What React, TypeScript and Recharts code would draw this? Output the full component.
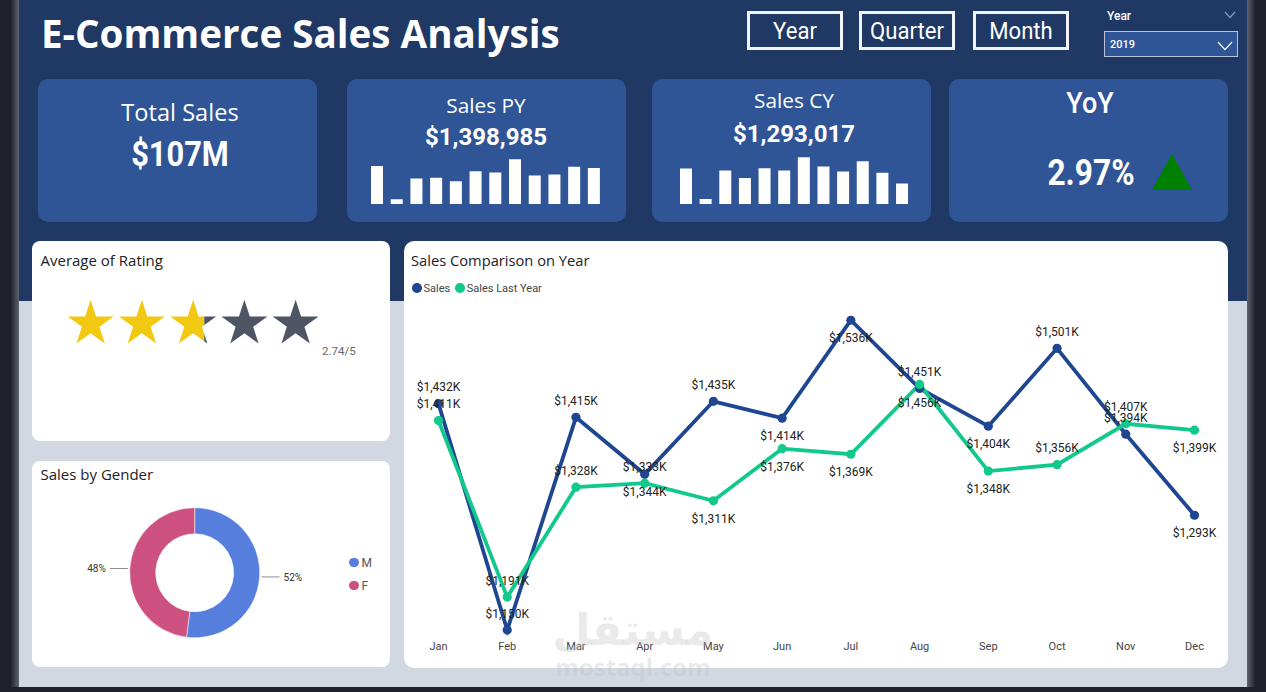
import React from 'react'
import {
  LineChart, Line, BarChart, Bar, PieChart, Pie, Cell, ScatterChart, Scatter,
  XAxis, YAxis, LabelList, Legend,
} from 'recharts'

const months = ['Jan', 'Feb', 'Mar', 'Apr', 'May', 'Jun', 'Jul', 'Aug', 'Sep', 'Oct', 'Nov', 'Dec']
const sales = [1432, 1150, 1415, 1344, 1435, 1414, 1536, 1451, 1404, 1501, 1394, 1293]
const salesLastYear = [1411, 1191, 1328, 1333, 1311, 1376, 1369, 1456, 1348, 1356, 1407, 1399]
const salesBelow = ['Apr', 'Jun', 'Jul', 'Sep', 'Dec']
const lastYearBelow = ['May', 'Jun', 'Jul', 'Aug', 'Sep', 'Dec']
const genders = ['M', 'F']
const genderShare = [52, 48]
const starSlots = [1, 2, 3, 4, 5]
const rating = 2.74

const NAVY = '#203864'
const CARD_BLUE = '#2F5597'
const BLUE = '#1F4690'
const GREEN = '#10C98A'
const GOLD = '#F2C811'
const SLATE = '#4E5564'
const GENDER_COLORS = ['#567EDD', '#CC5180']

const UI = '"Open Sans", sans-serif'
const DIN = 'Roboto, sans-serif'

const monthly = months.map((month, i) => ({ month, sales: sales[i], lastYear: salesLastYear[i] }))
const genderData = genders.map((name, i) => ({ name, value: genderShare[i] }))
const starData = starSlots.map(n => ({ n, y: 1 }))

const abs = (left: number, top: number, width: number, height: number): React.CSSProperties => ({
  position: 'absolute', left, top, width, height,
})

function Txt({ x, y, size, children, weight = 400, color = '#fff', font = DIN, align = 'center', sx = 1 }: any) {
  // x is the centre (or the left edge when align is left), y the vertical centre
  const style: React.CSSProperties = {
    position: 'absolute', top: y, fontSize: size, fontWeight: weight, color, fontFamily: font,
    whiteSpace: 'nowrap', lineHeight: 1,
    left: x,
    transform: align === 'center' ? `translate(-50%, -50%) scaleX(${sx})` : `translateY(-50%) scaleX(${sx})`,
    transformOrigin: align === 'center' ? 'center' : 'left center',
  }
  return <div style={style}>{children}</div>
}

function Card({ x, y, w, h, color = '#fff', radius = 10 }: any) {
  return <div style={{ ...abs(x, y, w, h), background: color, borderRadius: radius }} />
}

function MonthButton({ x, w, label }: any) {
  return (
    <>
      <div style={{ ...abs(x, 11, w, 39), boxSizing: 'border-box', border: '3px solid #F1F3F7' }} />
      <Txt x={x + w / 2} y={31} size={23} sx={0.96}>{label}</Txt>
    </>
  )
}

function Chevron({ x, y, w, color }: any) {
  const h = w * 0.55
  return (
    <svg style={{ ...abs(x, y, w, h + 2), overflow: 'visible' }}>
      <polyline points={`0,0 ${w / 2},${h} ${w},0`} fill="none" stroke={color} strokeWidth={1.2} />
    </svg>
  )
}

function Spark({ x, w, values, domain }: any) {
  const data = values.map((v: number, i: number) => ({ i, v }))
  return (
    <div style={abs(x, 154, w, 50)}>
      <BarChart width={w} height={50} data={data} margin={{ top: 0, right: 0, bottom: 0, left: 0 }}>
        <XAxis dataKey="i" hide />
        <YAxis hide domain={domain} allowDataOverflow />
        <Bar dataKey="v" fill="#fff" barSize={12} isAnimationActive={false} />
      </BarChart>
    </div>
  )
}

function StarShape({ cx, cy, payload }: any) {
  const R = 24.2
  const r = R * 0.382
  const pts = Array.from({ length: 10 }, (_, i) => {
    const a = (i * Math.PI) / 5
    const d = i % 2 === 0 ? R : r
    return `${cx + d * Math.sin(a)},${cy - d * Math.cos(a)}`
  }).join(' ')
  const share = Math.max(0, Math.min(1, rating - (payload.n - 1)))
  const half = R * 0.951
  const split = half * 2 * share
  const id = `star-${payload.n}`
  return (
    <g>
      <clipPath id={`${id}-on`}>
        <rect x={cx - half} y={cy - R} width={split} height={R * 2} />
      </clipPath>
      <clipPath id={`${id}-off`}>
        <rect x={cx - half + split} y={cy - R} width={half * 2 - split} height={R * 2} />
      </clipPath>
      <polygon points={pts} fill={SLATE} clipPath={`url(#${id}-off)`} />
      <polygon points={pts} fill={GOLD} clipPath={`url(#${id}-on)`} />
    </g>
  )
}

function GenderLabel({ cx, cy, midAngle, outerRadius, value }: any) {
  const rad = (midAngle * Math.PI) / 180
  const right = Math.cos(rad) >= 0
  const y = cy - (outerRadius + 2) * Math.sin(rad)
  const x0 = cx + (outerRadius + 2) * Math.cos(rad)
  const x1 = x0 + (right ? 18 : -18)
  return (
    <g>
      <line x1={x0} y1={y} x2={x1} y2={y} stroke="#8d8d96" strokeWidth={1} />
      <text x={x1 + (right ? 4 : -4)} y={y + 1} textAnchor={right ? 'start' : 'end'} dominantBaseline="middle"
        fontSize={10} fontFamily={DIN} fill="#333">{value}%</text>
    </g>
  )
}

function GenderLegend({ payload }: any) {
  return (
    <div>
      {(payload || []).map((p: any) => (
        <div key={p.value} style={{ display: 'flex', alignItems: 'center', height: 23, fontFamily: DIN, fontSize: 12, color: '#555' }}>
          <span style={{ width: 9.5, height: 9.5, borderRadius: '50%', background: p.color, marginRight: 3 }} />
          {p.value}
        </div>
      ))}
    </div>
  )
}

function SalesLegend({ payload }: any) {
  return (
    <div style={{ display: 'flex', alignItems: 'center', fontFamily: DIN, fontSize: 11, color: '#444', height: 14 }}>
      {(payload || []).filter((p: any) => p.type !== 'none').map((p: any) => (
        <span key={p.value} style={{ display: 'flex', alignItems: 'center', marginRight: 5 }}>
          <span style={{ width: 9.5, height: 9.5, borderRadius: '50%', background: p.color, marginRight: 2 }} />
          {p.value}
        </span>
      ))}
    </div>
  )
}

const pointLabel = (below: string[]) => ({ x, y, value, index }: any) => (
  <text x={x} y={y + (below.includes(months[index]) ? 19 : -15.5)} textAnchor="middle" dominantBaseline="middle"
    fontSize={12} fontFamily={DIN} fill="#222">
    ${Number(value).toLocaleString('en-US')}K
  </text>
)

export default function App() {
  return (
    <div style={{ ...abs(0, 0, 1266, 692), overflow: 'hidden', background: '#1E2129' }}>
      {/* page backdrop and window frame */}
      <div style={{ ...abs(19, 0, 1228, 301), background: NAVY }} />
      <div style={{ ...abs(19, 301, 1228, 386), background: '#D2D8E2' }} />
      <div style={{ ...abs(0, 0, 19, 692), background: 'linear-gradient(90deg,#1E2129 55%,#5F636D 100%)' }} />
      <div style={{ ...abs(1247, 0, 19, 692), background: 'linear-gradient(90deg,#5F636D 0%,#1E2129 45%)' }} />
      <div style={{ ...abs(0, 687, 1266, 5), background: '#1E2129' }} />

      <Txt x={41} y={33} size={38.6} weight={700} font={UI} align="left">E-Commerce Sales Analysis</Txt>

      <MonthButton x={747} w={96} label="Year" />
      <MonthButton x={859} w={96} label="Quarter" />
      <MonthButton x={973} w={96} label="Month" />

      <Txt x={1107} y={16} size={12} weight={500} align="left">Year</Txt>
      <Chevron x={1225} y={12} w={10} color="#8E9AB8" />
      <div style={{ ...abs(1104, 31, 134, 26), boxSizing: 'border-box', background: CARD_BLUE, border: '1px solid #B9C3D8' }} />
      <Txt x={1110} y={44} size={11} weight={500} align="left">2019</Txt>
      <Chevron x={1218} y={42} w={14} color="#fff" />

      {/* KPI cards */}
      <Card x={38} y={79} w={279} h={143} color={CARD_BLUE} />
      <Card x={347} y={79} w={279} h={143} color={CARD_BLUE} />
      <Card x={652} y={79} w={279} h={143} color={CARD_BLUE} />
      <Card x={949} y={79} w={279} h={143} color={CARD_BLUE} />

      <Txt x={180} y={113} size={23.6} font={UI}>Total Sales</Txt>
      <Txt x={180} y={154} size={35} weight={700} sx={0.88}>$107M</Txt>

      <Txt x={486} y={105} size={20.8} font={UI}>Sales PY</Txt>
      <Txt x={486} y={137} size={24} weight={700}>$1,398,985</Txt>
      <Spark x={367.4} w={236.6} values={salesLastYear} domain={[1160, 1491]} />

      <Txt x={794} y={100} size={20.8} font={UI}>Sales CY</Txt>
      <Txt x={794} y={134} size={24} weight={700}>$1,293,017</Txt>
      <Spark x={676.3} w={235.7} values={sales} domain={[1104, 1567]} />

      <Txt x={1090} y={103} size={30} weight={500} sx={0.9}>YoY</Txt>
      <Txt x={1091} y={173} size={36} weight={700} sx={0.88}>2.97%</Txt>
      <svg style={abs(1152, 154, 40, 36)}>
        <polygon points="20,0 40,36 0,36" fill="#008000" />
      </svg>

      {/* rating */}
      <Card x={32} y={241} w={358} h={200} radius={8} />
      <Txt x={40.5} y={260} size={15} weight={500} color="#222" font={UI} align="left">Average of Rating</Txt>
      <div style={abs(65.4, 293.5, 256.25, 60)}>
        <ScatterChart width={256.25} height={60} margin={{ top: 0, right: 0, bottom: 0, left: 0 }}>
          <XAxis type="number" dataKey="n" hide domain={[0.5, 5.5]} />
          <YAxis type="number" dataKey="y" hide domain={[0, 2]} />
          <Scatter data={starData} shape={StarShape} isAnimationActive={false} />
        </ScatterChart>
      </div>
      <Txt x={322} y={352} size={11.5} color="#666" align="left">{rating}/5</Txt>

      {/* gender */}
      <Card x={32} y={461} w={358} h={206} radius={8} />
      <Txt x={40.5} y={474} size={15} weight={500} color="#222" font={UI} align="left">Sales by Gender</Txt>
      <div style={abs(32, 461, 358, 206)}>
        <PieChart width={358} height={206} margin={{ top: 0, right: 0, bottom: 0, left: 0 }}>
          <Pie data={genderData} dataKey="value" nameKey="name" cx={162.7} cy={111.7} innerRadius={39} outerRadius={65}
            startAngle={90} endAngle={-270} stroke="#fff" strokeWidth={0.5} isAnimationActive={false}
            label={GenderLabel} labelLine={false}>
            {genderData.map((_, i) => <Cell key={i} fill={GENDER_COLORS[i]} />)}
          </Pie>
          <Legend layout="horizontal" align="center" verticalAlign="middle" content={GenderLegend} itemSorter={null}
            wrapperStyle={{ left: 317, top: 90, width: 40 }} />
        </PieChart>
      </div>

      {/* sales comparison */}
      <Card x={404} y={241} w={824} h={427} radius={10} />
      <Txt x={411} y={260} size={14.7} weight={500} color="#222" font={UI} align="left">Sales Comparison on Year</Txt>
      <div style={abs(404, 242, 824, 426)}>
        <LineChart width={824} height={426} data={monthly} margin={{ top: 59, right: 33.5, bottom: 0, left: 34.5 }}>
          <XAxis dataKey="month" height={30} axisLine={false} tickLine={false} tickSize={0} tickMargin={4} interval={0}
            tick={{ fontSize: 11, fontFamily: DIN, fill: '#444' }} padding={{ left: 0, right: 0 }} />
          <YAxis hide domain={[1140, 1560]} allowDataOverflow />
          {/* labels first, the source draws its lines over them */}
          <Line dataKey="sales" stroke="none" dot={false} legendType="none" isAnimationActive={false}>
            <LabelList dataKey="sales" content={pointLabel(salesBelow)} />
          </Line>
          <Line dataKey="lastYear" stroke="none" dot={false} legendType="none" isAnimationActive={false}>
            <LabelList dataKey="lastYear" content={pointLabel(lastYearBelow)} />
          </Line>
          <Line dataKey="sales" name="Sales" stroke={BLUE} strokeWidth={3.8} isAnimationActive={false}
            dot={{ r: 4.6, fill: BLUE, stroke: BLUE, strokeWidth: 0 }} />
          <Line dataKey="lastYear" name="Sales Last Year" stroke={GREEN} strokeWidth={3.8} isAnimationActive={false}
            dot={{ r: 4.6, fill: GREEN, stroke: GREEN, strokeWidth: 0 }} />
          <Legend layout="horizontal" align="center" verticalAlign="middle" content={SalesLegend} itemSorter={null}
            wrapperStyle={{ left: 8, top: 39, width: 300 }} />
        </LineChart>
      </div>

      {/* watermark */}
      <div dir="rtl" style={{ position: 'absolute', left: 633, top: 630, transform: 'translate(-50%,-50%)', fontFamily: '"DejaVu Sans"', fontWeight: 700, fontSize: 44, color: 'rgba(190,190,190,0.32)', lineHeight: 1 }}>مستقل</div>
      <div style={{ position: 'absolute', left: 633, top: 667, transform: 'translate(-50%,-50%)', fontFamily: UI, fontWeight: 700, fontSize: 24, color: 'rgba(190,190,190,0.32)', lineHeight: 1 }}>mostaql.com</div>
    </div>
  )
}
